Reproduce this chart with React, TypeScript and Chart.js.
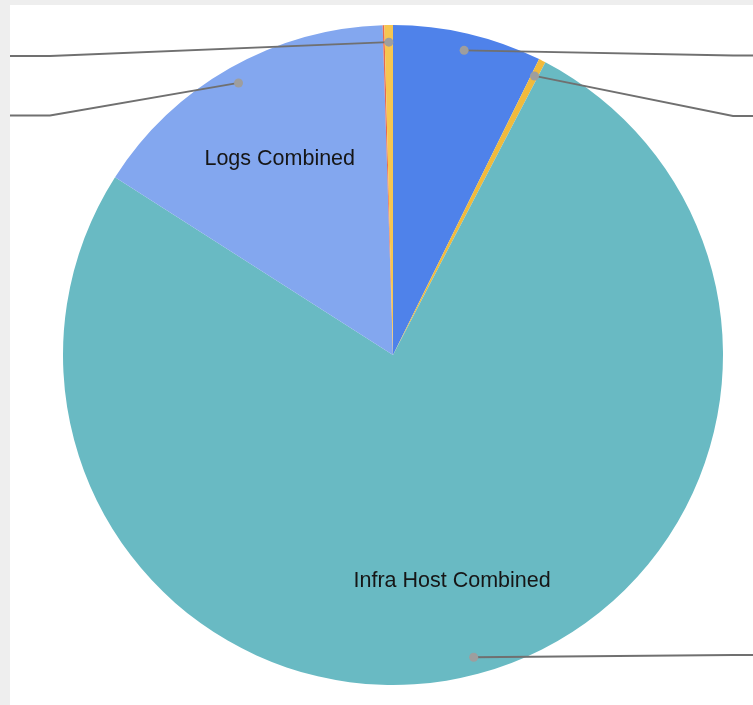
import React, { useEffect, useRef } from "react";
import { Chart, registerables } from "chart.js";

Chart.register(...registerables);

// Slice data, clockwise from 12 o'clock
const categories = [
  "Slice A",
  "Slice B",
  "Infra Host Combined",
  "Logs Combined",
  "Slice C",
  "Slice D",
];
const values = [7.3, 0.34, 76.42, 15.44, 0.08, 0.42];
const colors = ["#4F82EA", "#F1BA3C", "#69BAC3", "#83A7EF", "#E8694F", "#F6C650"];
// names drawn inside their slice
const insideLabels = ["", "", "Infra Host Combined", "Logs Combined", "", ""];
// callout line end heights (canvas px), null = no callout
const calloutY: (number | null)[] = [50.5, 111, 650, 110.5, null, 51];

const W = 743;
const H = 700;

const calloutPlugin = {
  id: "callouts",
  afterDatasetsDraw(chart: any) {
    const ctx = chart.ctx as CanvasRenderingContext2D;
    const meta = chart.getDatasetMeta(0);
    ctx.save();
    meta.data.forEach((arc: any, i: number) => {
      const p = arc.getProps(["x", "y", "startAngle", "endAngle", "outerRadius"], true);
      const mid = (p.startAngle + p.endAngle) / 2;
      const R = p.outerRadius;
      // inside label
      const txt = insideLabels[i];
      if (txt) {
        const r = R * 0.695;
        ctx.fillStyle = "#161616";
        ctx.font = '21.5px "Liberation Sans", Arial, sans-serif';
        ctx.textAlign = "center";
        ctx.textBaseline = "middle";
        ctx.fillText(txt, p.x + Math.cos(mid) * r, p.y + Math.sin(mid) * r + 4);
      }
      const ly = calloutY[i];
      if (ly == null) return;
      const dr = R * 0.948;
      const dx = p.x + Math.cos(mid) * dr;
      const dy = p.y + Math.sin(mid) * dr;
      const right = Math.cos(mid) >= 0;
      const elbowX = right ? 723 : 40;
      const endX = right ? W : 0;
      ctx.strokeStyle = "#707070";
      ctx.lineWidth = 1.8;
      ctx.beginPath();
      ctx.moveTo(dx, dy);
      ctx.lineTo(elbowX, ly);
      ctx.lineTo(endX, ly);
      ctx.stroke();
      ctx.fillStyle = "#9E9E9E";
      ctx.beginPath();
      ctx.arc(dx, dy, 4.5, 0, Math.PI * 2);
      ctx.fill();
    });
    ctx.restore();
  },
};

export default function App() {
  const ref = useRef<HTMLCanvasElement | null>(null);
  useEffect(() => {
    if (!ref.current) return;
    const chart = new Chart(ref.current, {
      type: "pie",
      data: {
        labels: categories,
        datasets: [
          {
            data: values,
            backgroundColor: colors,
            borderWidth: 0,
          },
        ],
      },
      options: {
        responsive: false,
        animation: false,
        radius: 330,
        layout: { padding: { left: 23, right: 0, top: 0, bottom: 0 } },
        plugins: {
          legend: { display: false },
          tooltip: { enabled: false },
        },
      } as any,
      plugins: [calloutPlugin],
    });
    return () => chart.destroy();
  }, []);
  return (
    <div style={{ position: "fixed", left: 0, top: 0, width: 753, height: 705, background: "#EEEEEE", overflow: "hidden" }}>
      <div style={{ position: "absolute", left: 10, top: 5, width: W, height: H, background: "#FFFFFF" }}>
        <canvas ref={ref} width={W} height={H} style={{ display: "block", width: W, height: H }} />
      </div>
    </div>
  );
}
